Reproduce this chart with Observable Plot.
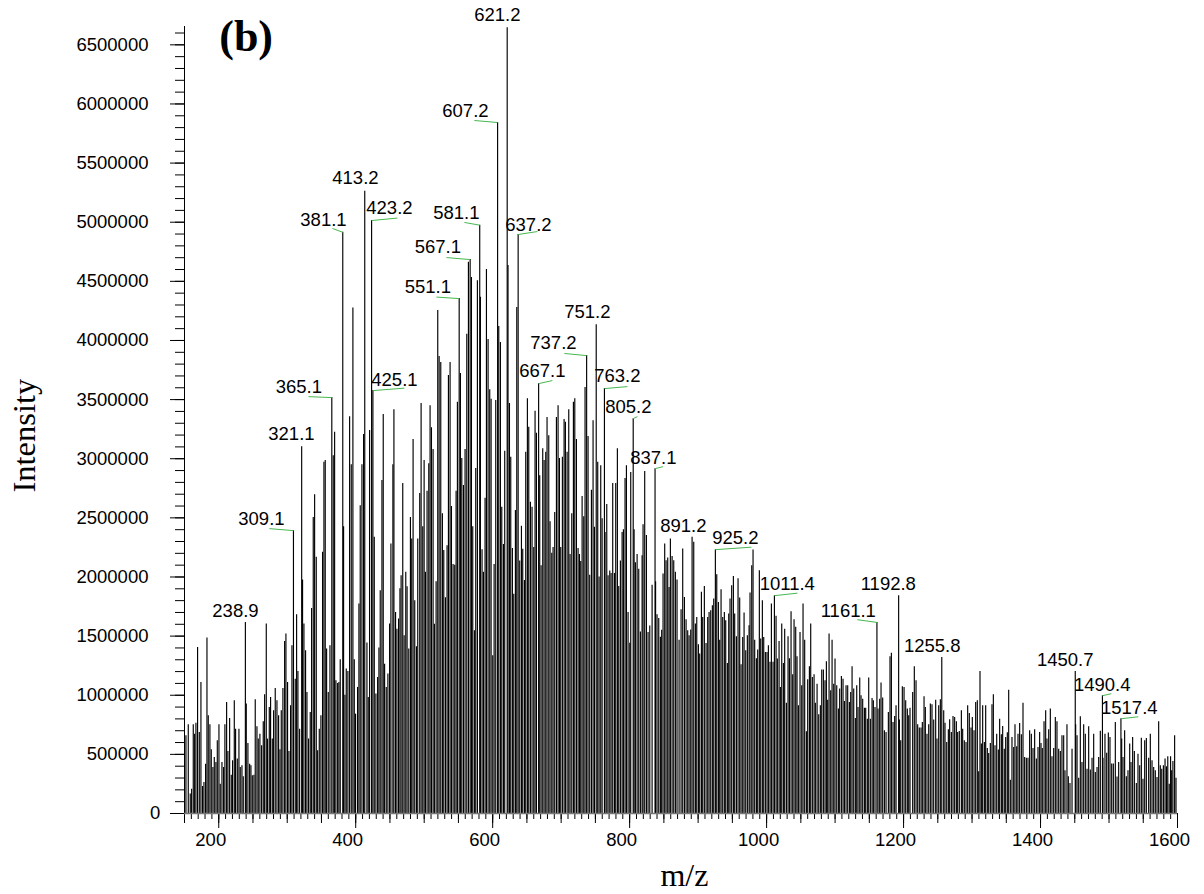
<!DOCTYPE html>
<html><head><meta charset="utf-8">
<script src="https://cdn.jsdelivr.net/npm/d3@7"></script>
<script src="https://cdn.jsdelivr.net/npm/@observablehq/plot@0.6"></script>
<style>html,body{margin:0;padding:0;background:#fff}svg{display:block}</style>
</head><body><div id="chart"></div>
<script>
const mzLow=[152.1,155.5,158.4,160.4,162.8,164.8,166.7,169.1,171.6,174,176.4,178.4,180.8,182.8,184.7,187.1,189.1,191.5,193.5,195.9,197.9,200.3,202.2,204.7,207.1,209,211.5,213.4,215.9,218.3,220.2,222.7,224.6,227.1,229.5,231.4,233.9,235.8,238.9,240.2,242.6,245.1,247,249,251.4,253.3,255.8,257.7,260.1,262.6,265,267,269.4,271.3,273.8,275.7,278.2,280.1,282.5,285,287.4,289.4,291.3,293.7,296.2,298.1,300.5,302.5,304.9,306.9,309.1,311.7,313.7,315.6,318.1,321.1,322.4,324.4,326.8,328.8,331.2,333.6,335.6,338,340,342.4,344.4,346.8,349.2,351.6,353.6,355.5,357.5,359.9,362.4,365.1,367.2,369.2,371.1,373.6,375.5,377.4,381.1,382.3,384.3,386.2,388.6,391.1,393.5,395.9,397.9,399.8,402.7,404.7,406.6,409.1,411.5,413.2,416.4,418.3,420.3,423.2,425.1,427.1,429.5,432,433.9,435.8,438.3,440.2,442.2,444.6,447,449.5,451.4,454.3,455.8,458.2,460.2,462.6,464.6];
const intensityLow=[657,750,164,206,750,671,764,1404,685,1108,228,262,417,1483,826,750,539,389,474,431,615,750,248,431,389,750,939,525,804,324,446,953,713,460,713,389,403,310,1616,925,592,417,403,319,324,962,733,629,671,572,775,1004,1602,629,897,981,629,868,1058,953,826,539,868,1058,1455,1517,1108,525,911,1418,2392,1136,1681,1201,713,3102,1974,1602,1376,1024,629,854,1734,2504,2696,2166,530,713,826,2210,2970,2984,1390,1024,1418,3517,3026,3223,1122,1100,1108,1300,4915,2425,1000,1221,1200,3356,2950,4275,1300,840,1066,1771,2603,2950,3204,5262,1441,981,3238,5014,3576,2335,1010,1150,1400,1884,2815,3373,1263,1066,1179,1602,2279,2950,3415,1700,1559,1644,1900];
const mzMidA=[466.3,468.7,470.7,473.1,475,477.5,479.9,481.8,483.8,486.2,488.7,490.6,493.5,495.5,497.9,499.9,501.8,504.2,506.7,508.6,510.6,513,514.9,517.4,519.8,521.8,524.2,526.6,528.6,531,533.4,535.4,537.8,539.8,542.2,544.6,546.6,548.5,551.1,552.9,554.9,557.3,559.7,562.2,564.6,567.1,569,570.9,573.3,575.3,577.7,581.1,582.1,584.5,586.5,588.9,590.9,593.3,595.7,597.7,600.1,602.1,604.5,607.2,608.9,611.3,613.3,615.7,617.6,621.2,622.4,624.5,626.4,628.8,630.8,633.2,635.2,637.2,639.5,642,643.9,646.4,648.3];
const intensityMidA=[2011,2790,1503,2039,1918,1390,2504,2321,3162,1799,1410,2321,2705,3466,2425,2984,2039,2724,2958,3449,3263,3077,1600,1960,4253,3864,3813,2535,2225,1825,2265,3703,3813,2597,2105,2100,2724,3478,4354,3720,3002,2773,3077,4052,4661,4684,4532,2425,1545,2917,4505,4975,4366,2230,2040,2665,4600,4008,3584,3503,1335,2105,3492,5843,4118,3982,2589,2275,3063,6645,4634,3466,3012,2240,1855,2562,4278,4896,2135,2428,2235,1970,3054];
const mzMidB=[650.7,652.7,655.1,657.5,660,661.9,663.9,667.1,668.7,670.7,673.1,675.1,677.5,679.4,681.9,683.8,686.3,688.2,690.6,693.1,695.5,697.5,699.4,701.8,704.3,706.2,708.7,711.1,713,715.5,717.9,719.9,722.3,724.7,726.7,728.6,730.6,733,734.9,737.2,739.3,741.7,744.2,746.6,748.6,751.2,753.4,755.4,757.8,759.8,763.2,764.1,766.6,768.5,771,772.9,775.3,777.8,779.7,782.1,784.1,786.5,789,790.9,793.3,795.3,797.7,800.2,801.6,805.2,806.5,808.4,810.9,813.3,815.7,818.2,819.6,822,824.5,826.9,829.4,832.8,837.1,837.9,840,842.5];
const intensityMidB=[3508,3266,2631,2589,2250,3401,3215,3635,2857,2095,3085,2984,3054,3348,3195,2468,2200,2250,2546,3348,3449,3002,2250,3012,3331,3308,3054,3415,2190,2535,3478,3508,3162,2240,2190,2130,2680,2510,3602,3872,3187,2015,2733,3322,2420,4134,2970,2000,2941,2493,3593,2377,2612,2010,2050,2030,2790,2030,2790,3085,1920,2135,2377,2400,2832,2941,1700,1440,2883,3339,2400,2120,2190,2065,1535,2180,2442,2893,2350,1530,1585,1930,2916,1960,1680,1650];
const mzHighA=[844.9,846.8,848.8,851.2,853.2,855.6,857.6,859.5,862,864.4,866.8,869.2,872.2,875.1,877.5,880,882.4,884.8,886.8,889.2,891.2,893.6,896,898,900.4,902.3,904.8,906.7,909.1,911.6,914,916,918.4,920.8,922.8,925.2,927.2,929.6,931.5,933.5,935.9,938.3,940.3,942.7,944.7,946.6,949,951.5,953.4,955.9,958.3,960.7,962.7,965.1,967.1,969.5,971.9,974.4,975.8,978.3,980.2,982.6,985.1,987,989.4,991.4,993.8,995.8,998.2,1000.6,1002.6,1005,1007,1009.4,1011.4,1013.8,1015.7,1018.2,1020.1,1022.1,1024.5,1026.4,1028.9,1031.3,1033.3,1035.7,1038.1,1040.1,1042.5,1044.4,1046.4,1048.8,1051.3,1053.2,1055.6,1058.1,1060,1062.5,1064.4,1066.8,1069.3,1071.2,1073.7,1076.1,1078.5,1080.5,1082.9,1085.3,1087.3,1089.2,1091.2,1093.6,1095.6,1098,1099.9,1102.4,1104.8,1106.7,1109.2,1111.6,1113.6,1116,1118.4,1120.9,1122.8,1124.8,1127.2,1129.6,1131.6,1133.5,1136,1137.9,1140.3,1142.8,1144.7,1147.1,1149.1,1151.5,1154,1155.9,1158.3,1161.1,1162.7,1165.1,1167.1,1169.5,1172,1174.4,1177.8,1180.2,1182.2,1184.6,1187,1189,1192.8,1193.9,1195.8,1198.2,1200.7,1203.1,1205.5,1207.5,1209.4];
const intensityHighA=[1490,1550,2025,2279,2138,2160,1912,2321,2174,2138,2039,1974,1466,1723,2236,1827,1638,1545,1503,1551,2335,2293,1602,1658,1427,1348,1870,1658,1920,1438,1658,1700,1715,1757,1813,2231,2019,1785,1466,1892,1658,1700,1630,1269,1686,1813,1926,2005,1686,1495,1985,1822,1258,1489,1695,1376,1503,1588,1864,2095,2228,1466,1309,1382,2053,1475,1799,1489,1362,1362,1418,1280,1771,1280,1842,1667,1306,1455,1066,1602,1269,1559,933,1495,1309,1706,1173,1638,1574,1325,911,1531,1080,1771,1466,691,1131,1241,1602,1150,1173,933,1094,835,911,1213,1213,1122,1283,958,1517,1038,1466,1094,1306,1080,883,1052,1159,1136,948,1080,1080,939,1024,1241,1052,804,1080,897,1145,995,967,891,891,798,1145,798,973,953,897,1616,883,967,1103,976,699,685,854,1325,1356,770,821,911,1842,790,615,1072,1066,953,883,826,891];
const mzHighB=[1213.3,1215.7,1218.2,1220.6,1223,1225.5,1227.4,1229.9,1231.8,1234.2,1236.7,1239.1,1241.5,1244,1246.9,1248.8,1251.3,1253.7,1255.8,1258.6,1260.5,1263,1265.4,1267.3,1269.8,1272.2,1274.6,1277.1,1279,1281.4,1284.4,1286.3,1288.7,1291.2,1293.6,1296,1298.5,1300.4,1302.9,1305.3,1307.7,1309.7,1311.6,1313.6,1315.5,1318,1319.9,1322.3,1324.3,1326.7,1329.1,1331.1,1333.5,1336,1338.4,1340.3,1342.8,1344.7,1347.1,1349.1,1351.5,1353.5,1355.9,1358.3,1360.8,1362.7,1365.2,1367.1,1369.5,1372,1374.4,1376.8,1379.3,1381.7,1384.1,1386.6,1389,1391.4,1393.9,1396.3,1398.7];
const intensityHighB=[1024,1241,1122,750,722,722,770,987,897,671,750,925,919,790,958,629,911,962,1320,869,764,601,708,792,685,821,812,776,685,694,869,713,615,601,911,846,722,812,699,939,953,353,1201,587,911,601,911,550,508,592,919,1004,573,671,536,798,665,736,544,643,683,1043,282,643,558,750,564,671,761,665,933,474,468,468,699,671,550,708,460,558,685];
const mzHighC=[1400.7,1402.6,1405.1,1407.5,1409.4,1411.9,1414.3,1416.7,1419.2,1421.6,1424,1426.5,1428.9,1431.3,1433.8,1435.7,1438.6,1440.6,1443,1446,1450.7,1451.3,1453.3,1455.7,1458.1,1460.5,1463,1465.4,1467.9,1470.3,1472.7,1475.2,1477.6,1480,1482.5,1484.9,1487.3,1490.4,1491.2,1494.1,1496.6,1499,1501.4,1503.9,1506.3,1509.2,1511.7,1514.1,1517.4,1518.5,1520.4,1522.8,1525.3,1527.7,1530.2,1532.1,1534.5,1537,1539.9,1542.3,1544.8,1547.2,1549.6,1552.1,1554.5,1557.9,1560.3,1562.8,1565.2,1567.6,1570.1,1572.5,1574.9,1577,1579.4,1581.8,1583.9,1585.8,1587.9,1589.9,1591.5,1593.3,1595.8,1597.8];
const intensityHighC=[592,550,776,869,629,708,883,480,550,812,776,544,524,657,657,361,750,310,254,544,1201,750,657,299,818,431,750,671,375,733,367,468,671,347,389,474,696,996,468,671,510,680,643,418,418,770,308,431,801,629,474,699,310,361,587,431,643,524,254,502,403,637,290,615,634,468,671,446,389,361,304,776,403,375,403,460,395,480,248,480,361,440,657,299];

const mzTicks=[200,400,600,800,1000,1200,1400,1600];
const intensityTicks=[500000,1000000,1500000,2000000,2500000,3000000,3500000,4000000,4500000,5000000,5500000,6000000,6500000];

const peakLabels=["621.2","607.2","581.1","637.2","567.1","551.1","413.2","381.1","423.2","365.1","425.1","321.1","309.1","238.9","751.2","737.2","667.1","763.2","805.2","837.1","891.2","925.2","1011.4","1161.1","1192.8","1255.8","1450.7","1490.4","1517.4"];
const peakMz=[621.2,607.2,581.1,637.2,567.1,551.1,413.2,381.1,423.2,365.1,425.1,321.1,309.1,238.9,751.2,737.2,667.1,763.2,805.2,837.1,891.2,925.2,1011.4,1161.1,1192.8,1255.8,1450.7,1490.4,1517.4];
const peakIntensityK=[6645,5843,4975,4896,4684,4354,5262,4915,5014,3517,3576,3102,2392,1616,4134,3872,3635,3593,3339,2916,2335,2231,1842,1616,1842,1320,1201,996,801];
const labelMz=[606.9,560.2,547,652.2,520,505.4,399.6,352.9,449.2,317,456.5,306.1,262.3,224.4,738.3,688.7,672.6,782.1,798.1,834.6,878.4,954.3,1030.2,1119.3,1177.7,1241.9,1436.1,1490.1,1529.6];
const labelK=[6749,5936,5081,4980,4786,4448,5370,5014,5116,3609,3669,3212,2493,1715,4236,3974,3737,3695,3433,3009,2434,2332,1943,1715,1943,1419,1300,1089,894];
const leaderMz=[null,573.3,558.7,665.3,532.5,517.9,null,366,460.9,331,471.1,null,274,null,null,704.7,687.2,796.8,811.4,848.8,null,977.7,1044.9,1132.5,null,null,null,1503.4,1542.8];
const leaderK=[null,5860,4998,4921,4701,4367,null,4947,5035,3525,3597,null,2409,null,null,3890,3661,3610,3356,2933,null,2252,1863,1639,null,null,null,1013,818];

const mz=[...mzLow,...mzMidA,...mzMidB,...mzHighA,...mzHighB,...mzHighC];
const intensityK=[...intensityLow,...intensityMidA,...intensityMidB,...intensityHighA,...intensityHighB,...intensityHighC];
const sticks=mz.map((m,i)=>({mz:m,intensity:intensityK[i]*1000}));
const labels=peakLabels.map((t,i)=>({text:t,mz:peakMz[i],peak:peakIntensityK[i]*1000,lx:labelMz[i],ly:labelK[i]*1000,ax:leaderMz[i],ay:leaderK[i]==null?null:leaderK[i]*1000}));
const leaders=labels.filter(d=>d.ax!=null);

const sans="'Liberation Sans',Arial,sans-serif", serif="'Liberation Serif','Times New Roman',serif";
const blank=()=>"";
const chart=Plot.plot({
  width:1204,height:894,
  marginLeft:184,marginRight:27,marginTop:26,marginBottom:81,
  style:{fontFamily:sans,background:"#fff",color:"#000"},
  x:{domain:[150,1600],range:[184,1177]},
  y:{domain:[0,6655000],range:[813,26]},
  marks:[
    Plot.ruleX(sticks,{x:"mz",y:"intensity",stroke:"#000",strokeWidth:1.15}),
    Plot.axisY({ticks:d3.range(0,6600001,100000),tickSize:9,tickFormat:blank,label:null}),
    Plot.axisY({ticks:intensityTicks,tickSize:14,tickPadding:22,tickFormat:d3.format("d"),fontSize:18.5,label:null}),
    Plot.axisY({ticks:[0],tickSize:14,tickFormat:blank,label:null}),
    Plot.text([0],{x:()=>107,y:d=>d,text:d=>String(d),fontSize:18.5,fontFamily:sans}),
    Plot.axisX({ticks:d3.range(150,1601,10),tickSize:6,tickFormat:blank,label:null}),
    Plot.axisX({ticks:d3.range(150,1601,50),tickSize:10,tickFormat:blank,label:null}),
    Plot.axisX({ticks:mzTicks,tickSize:15,tickFormat:blank,label:null}),
    Plot.axisX({ticks:mzTicks,tickSize:0,tickPadding:19,dx:-8,tickFormat:d3.format("d"),fontSize:18.5,label:null}),
    Plot.ruleX([150],{stroke:"#000"}),
    Plot.ruleY([0],{stroke:"#777",strokeWidth:1.5}),
    Plot.link(leaders,{x1:"mz",y1:"peak",x2:"ax",y2:"ay",stroke:"#45b84f",strokeWidth:1}),
    Plot.text(labels,{x:"lx",y:"ly",text:"text",fontSize:18.5,fontFamily:sans,fill:"#000"}),
    Plot.text(["(b)"],{x:()=>240,y:()=>6563000,text:d=>d,fontSize:44,fontWeight:"bold",fontFamily:serif,fill:"#000"}),
    Plot.text(["Intensity"],{x:()=>-83,y:()=>3195000,text:d=>d,rotate:-90,fontSize:32.5,fontFamily:serif,fill:"#000"}),
    Plot.text(["m/z"],{x:()=>880,y:()=>-527000,text:d=>d,fontSize:32,fontFamily:serif,fill:"#000"})
  ]
});
document.getElementById("chart").appendChild(chart);
</script></body></html>
